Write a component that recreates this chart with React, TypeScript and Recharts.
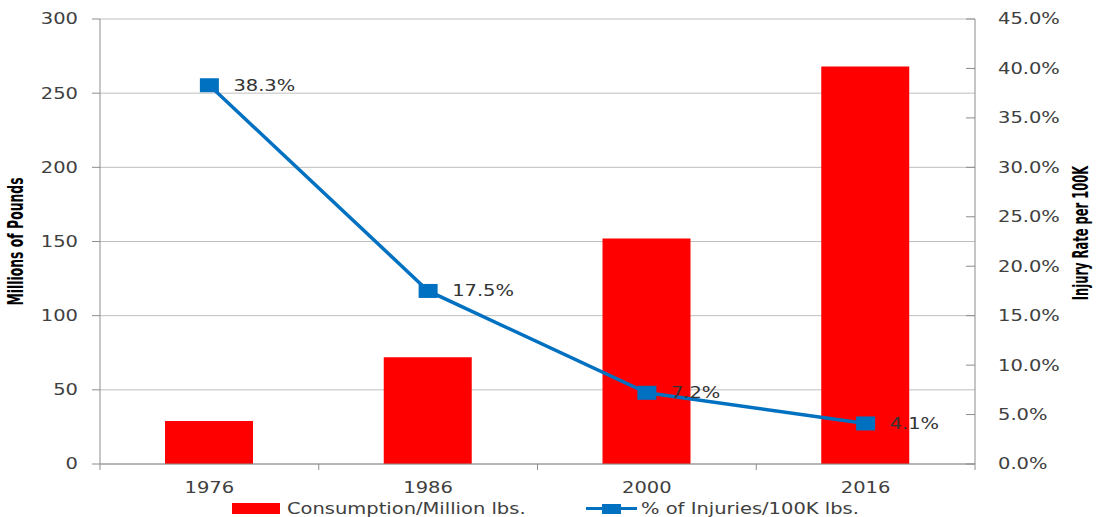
import React from 'react';
import {
  ComposedChart,
  Bar,
  Line,
  XAxis,
  YAxis,
  CartesianGrid,
  LabelList,
  Customized,
} from 'recharts';

const years = ['1976', '1986', '2000', '2016'];
const consumption = [29, 72, 152, 268];
const injuryRate = [0.383, 0.175, 0.072, 0.041];
const leftTicks = [0, 50, 100, 150, 200, 250, 300];
const rightTicks = [0, 0.05, 0.1, 0.15, 0.2, 0.25, 0.3, 0.35, 0.4, 0.45];
const barName = 'Consumption/Million lbs.';
const lineName = '% of Injuries/100K lbs.';
const leftTitle = 'Millions of Pounds';
const rightTitle = 'Injury Rate per 100K';

const data = years.map((y, i) => ({ year: y, consumption: consumption[i], rate: injuryRate[i] }));

const W = 1097;
const H = 517;
const MARGIN = { top: 19, right: 22, left: 20, bottom: 23 };
const LEFT_W = 80;
const RIGHT_W = 100;
const X_H = 30;
const PLOT_LEFT = MARGIN.left + LEFT_W;
const PLOT_RIGHT = W - MARGIN.right - RIGHT_W;
const PLOT_BOTTOM = H - MARGIN.bottom - X_H;
const PLOT_TOP = MARGIN.top;
const BAND = (PLOT_RIGHT - PLOT_LEFT) / years.length;

const RED = '#FF0000';
const BLUE = '#0070C0';
const AXIS = '#8C8C8C';
const GRID = '#BFBFBF';
const TEXT = '#404040';
const FONT = '"DejaVu Sans", Verdana, sans-serif';
const TITLE_FONT = '"Liberation Sans Narrow", "DejaVu Sans Condensed", "Arial Narrow", sans-serif';
const SX = 1.3;

const pct = (v: number) => (v * 100).toFixed(1) + '%';

const LeftTick = (props: any) => {
  const { x, y, payload } = props;
  return (
    <text
      transform={`translate(${x},${y}) scale(${SX},1)`}
      textAnchor="end"
      dy="0.36em"
      fontFamily={FONT}
      fontSize={15}
      fill={TEXT}
    >
      {payload.value}
    </text>
  );
};

const RightTick = (props: any) => {
  const { x, y, payload } = props;
  return (
    <text
      transform={`translate(${x},${y}) scale(${SX},1)`}
      textAnchor="start"
      dy="0.36em"
      fontFamily={FONT}
      fontSize={15}
      fill={TEXT}
    >
      {pct(payload.value)}
    </text>
  );
};

const XTick = (props: any) => {
  const { x, y, payload, index } = props;
  const bx = x - BAND / 2;
  return (
    <g>
      <line x1={bx} x2={bx} y1={PLOT_BOTTOM} y2={PLOT_BOTTOM + 6} stroke={AXIS} />
      {index === years.length - 1 && (
        <line x1={x + BAND / 2} x2={x + BAND / 2} y1={PLOT_BOTTOM} y2={PLOT_BOTTOM + 6} stroke={AXIS} />
      )}
      <text
        transform={`translate(${x},${y + 21}) scale(${SX},1)`}
        textAnchor="middle"
        fontFamily={FONT}
        fontSize={15}
        fill={TEXT}
      >
        {payload.value}
      </text>
    </g>
  );
};

const SquareDot = (props: any) => {
  const { cx, cy, index } = props;
  if (cx == null || cy == null) return <g key={index} />;
  return <rect key={index} x={cx - 9.5} y={cy - 7} width={19} height={14} fill={BLUE} />;
};

const RateLabel = (props: any) => {
  const { x, y, value, index } = props;
  return (
    <text
      key={index}
      transform={`translate(${x + 24},${y}) scale(${SX},1)`}
      textAnchor="start"
      dy="0.36em"
      fontFamily={FONT}
      fontSize={15}
      fill="#333333"
    >
      {pct(value)}
    </text>
  );
};

const Titles = () => {
  const midL = (PLOT_TOP + PLOT_BOTTOM) / 2;
  return (
    <g>
      <text
        transform={`translate(23,${midL}) scale(1.6,1) rotate(-90)`}
        textAnchor="middle"
        fontFamily={TITLE_FONT}
        fontWeight="bold"
        fontSize={13.8}
        fill="#000"
      >
        {leftTitle}
      </text>
      <text
        transform={`translate(1088,233) scale(1.6,1) rotate(-90)`}
        textAnchor="middle"
        fontFamily={TITLE_FONT}
        fontWeight="bold"
        fontSize={12.8}
        fill="#000"
      >
        {rightTitle}
      </text>
    </g>
  );
};

const Legend = () => (
  <g>
    <rect x={232} y={503} width={48} height={11} fill={RED} />
    <text
      transform={`translate(287,508.5) scale(${SX},1)`}
      dy="0.36em"
      fontFamily={FONT}
      fontSize={15}
      fill={TEXT}
    >
      {barName}
    </text>
    <line x1={586} x2={637} y1={508.5} y2={508.5} stroke={BLUE} strokeWidth={3} />
    <rect x={602} y={504} width={19} height={10} fill={BLUE} />
    <text
      transform={`translate(641,508.5) scale(${SX},1)`}
      dy="0.36em"
      fontFamily={FONT}
      fontSize={15}
      fill={TEXT}
    >
      {lineName}
    </text>
  </g>
);

export default function App() {
  return (
    <div style={{ position: 'absolute', left: 0, top: 0, width: W, height: H, background: '#fff' }}>
      <ComposedChart width={W} height={H} data={data} margin={MARGIN}>
        <CartesianGrid yAxisId="left" vertical={false} stroke={GRID} strokeWidth={1} />
        <XAxis
          dataKey="year"
          height={X_H}
          axisLine={{ stroke: AXIS }}
          tickLine={false}
          tick={<XTick />}
          interval={0}
        />
        <YAxis
          yAxisId="left"
          orientation="left"
          width={LEFT_W}
          domain={[0, 300]}
          ticks={leftTicks}
          interval={0}
          axisLine={{ stroke: AXIS }}
          tickLine={{ stroke: AXIS }}
          tickSize={8}
          tickMargin={14}
          tick={<LeftTick />}
        />
        <YAxis
          yAxisId="right"
          orientation="right"
          width={RIGHT_W}
          domain={[0, 0.45]}
          ticks={rightTicks}
          interval={0}
          axisLine={{ stroke: AXIS }}
          tickLine={{ stroke: AXIS }}
          tickSize={-9}
          tickMargin={32}
          tick={<RightTick />}
        />
        <Bar
          yAxisId="left"
          dataKey="consumption"
          name={barName}
          fill={RED}
          barSize={88}
          isAnimationActive={false}
        />
        <Line
          yAxisId="right"
          dataKey="rate"
          name={lineName}
          stroke={BLUE}
          strokeWidth={3.5}
          dot={(p: any) => <SquareDot {...p} key={p.index} />}
          activeDot={false}
          isAnimationActive={false}
        >
          <LabelList dataKey="rate" content={(p: any) => <RateLabel {...p} key={p.index} />} />
        </Line>
        <Customized component={Titles} />
        <Customized component={Legend} />
      </ComposedChart>
    </div>
  );
}
